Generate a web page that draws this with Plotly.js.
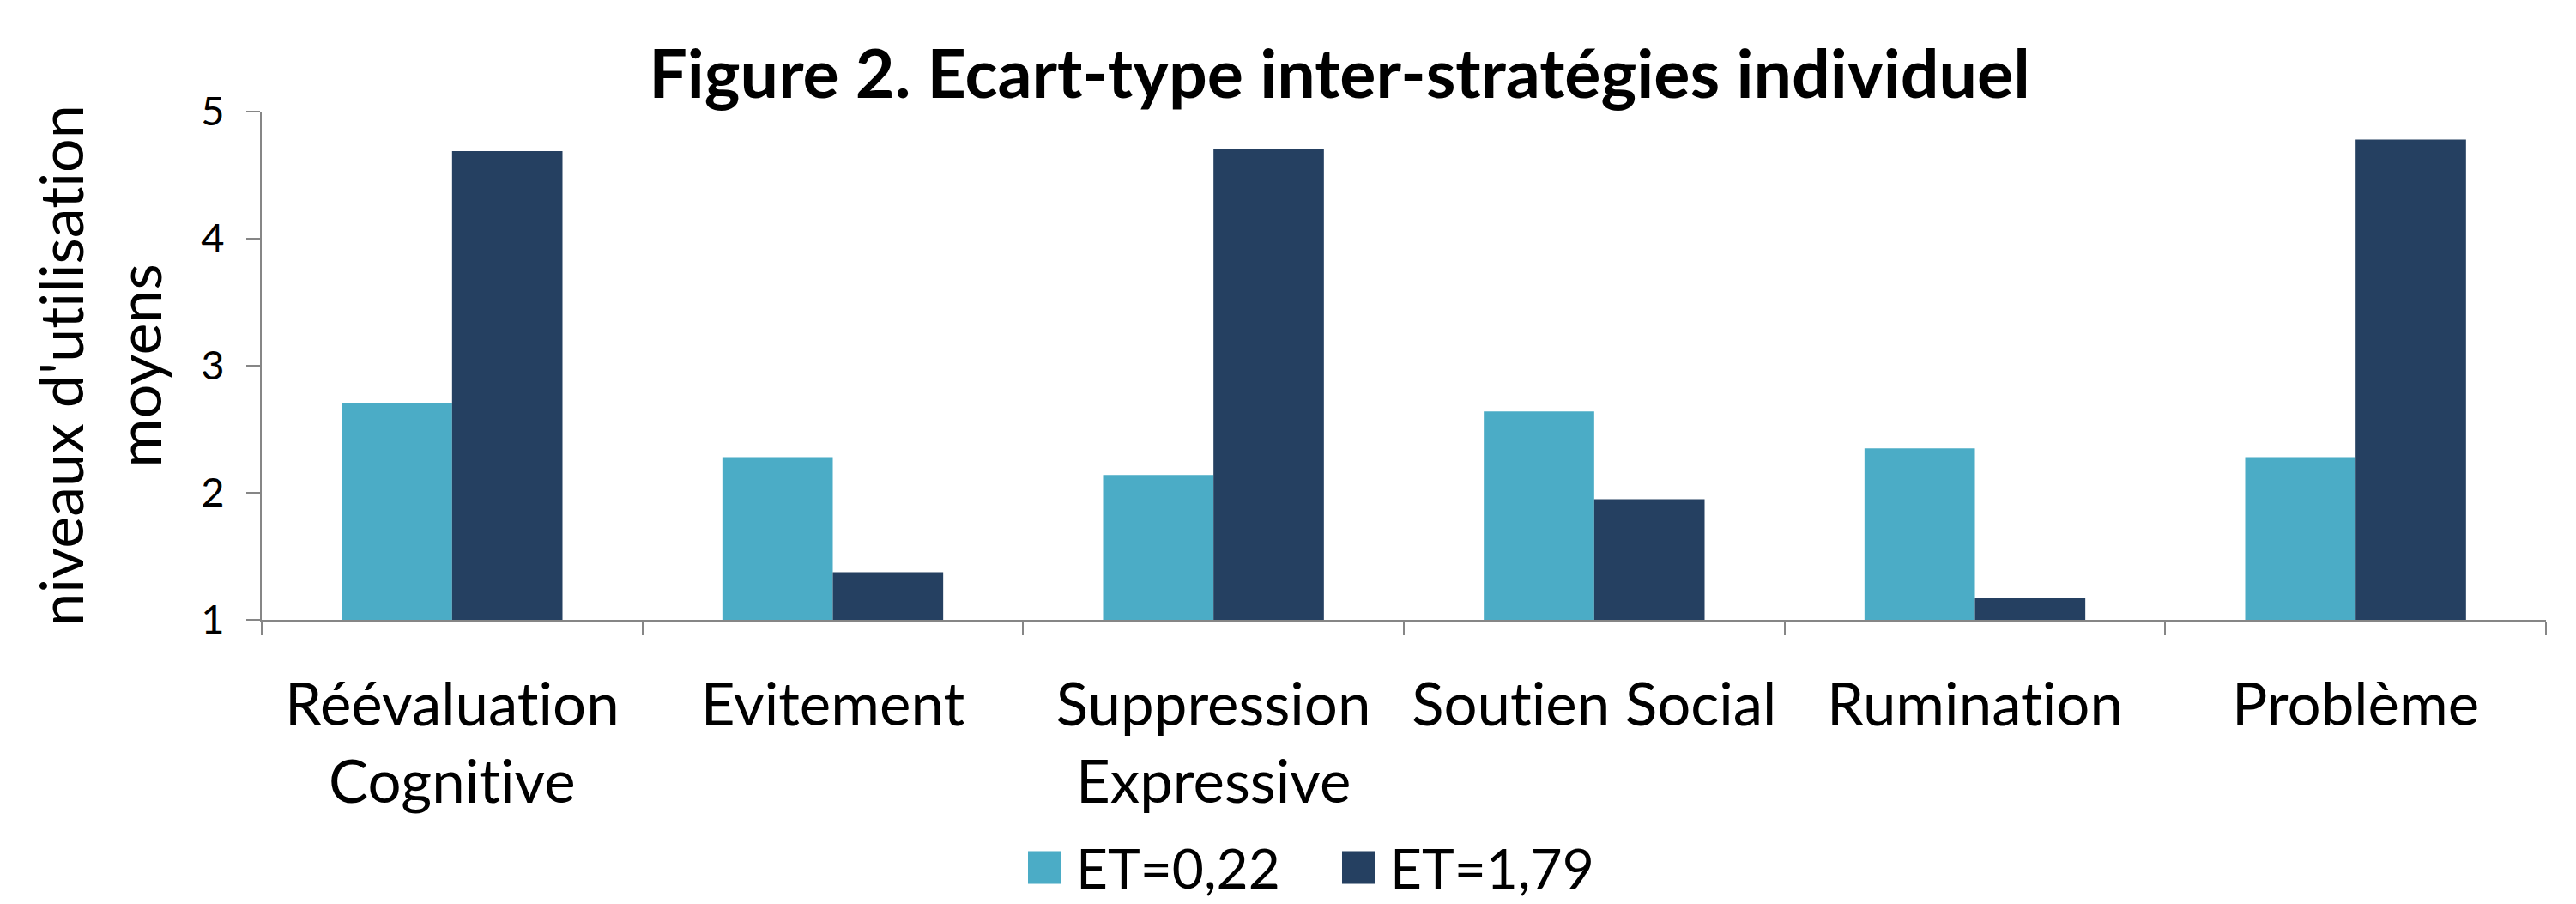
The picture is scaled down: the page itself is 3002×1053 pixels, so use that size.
<!DOCTYPE html>
<html>
<head>
<meta charset="utf-8">
<script src="https://cdn.plot.ly/plotly-3.0.1.min.js"></script>
<style>html,body{margin:0;padding:0;background:#fff;}#chart{width:3002px;height:1053px;}
#chart text{font-variant-ligatures:none;font-feature-settings:"liga" 0, "clig" 0;}</style>
</head>
<body>
<div id="chart"></div>
<script>
const categories = ["Réévaluation<br>Cognitive", "Evitement", "Suppression<br>Expressive", "Soutien Social", "Rumination", "Problème"];
const seriesNames = ["ET=0,22", "ET=1,79"];
const valuesLow = [2.71, 2.28, 2.14, 2.64, 2.35, 2.28];
const valuesHigh = [4.69, 1.375, 4.71, 1.95, 1.17, 4.78];
const yTicks = [1, 2, 3, 4, 5];
const colors = ["#4BACC6", "#254061"];

const FONT = "Lato, 'Open Sans', sans-serif";

const traces = [
  {type: "bar", name: seriesNames[0], x: categories, y: valuesLow, marker: {color: colors[0]}},
  {type: "bar", name: seriesNames[1], x: categories, y: valuesHigh, marker: {color: colors[1]}}
];

const layout = {
  width: 3002, height: 1053,
  paper_bgcolor: "#fff", plot_bgcolor: "#fff",
  margin: {l: 305, r: 35, t: 130, b: 331, autoexpand: false},
  font: {family: FONT, color: "#000"},
  title: {text: "<b>Figure 2. Ecart-type inter-stratégies individuel</b>", font: {family: FONT, size: 79, color: "#000"},
          x: 0.52, xanchor: "center", y: 0.918, yanchor: "middle"},
  barmode: "group", bargap: 0.42, bargroupgap: 0,
  xaxis: {type: "category", tickson: "boundaries", ticks: "outside", ticklen: 16, tickcolor: "#868686", tickwidth: 2,
          showline: true, linecolor: "#868686", linewidth: 2, showgrid: false, zeroline: false,
          tickfont: {family: FONT, size: 69, color: "#000"}, ticklabelstandoff: 38, automargin: false},
  yaxis: {range: [1, 5], tickvals: yTicks, ticktext: yTicks.map(String), ticks: "outside", ticklen: 16, tickcolor: "#868686", tickwidth: 2,
          showline: true, linecolor: "#868686", linewidth: 2, showgrid: false, zeroline: false,
          tickfont: {family: FONT, size: 47, color: "#000"}, ticklabelstandoff: 16, automargin: false,
          title: {text: "niveaux d'utilisation<br>moyens", font: {family: FONT, size: 70, color: "#000"}, standoff: 23}},
  legend: {orientation: "h", x: 0.3287, xanchor: "left", y: -0.488, yanchor: "middle",
           font: {family: FONT, size: 64, color: "#000"}, itemwidth: 64, entrywidth: 287, entrywidthmode: "pixels",
           bgcolor: "rgba(0,0,0,0)", borderwidth: 0},
  showlegend: true
};

function bigSwatches(gd) {
  gd.querySelectorAll(".legendpoints path").forEach(function (p) {
    p.setAttribute("d", "M19,19H-19V-19H19Z");
  });
}

Plotly.newPlot("chart", traces, layout, {staticPlot: true, displayModeBar: false}).then(function (gd) {
  bigSwatches(gd);
  gd.on("plotly_afterplot", function () { bigSwatches(gd); });
});
</script>
</body>
</html>
